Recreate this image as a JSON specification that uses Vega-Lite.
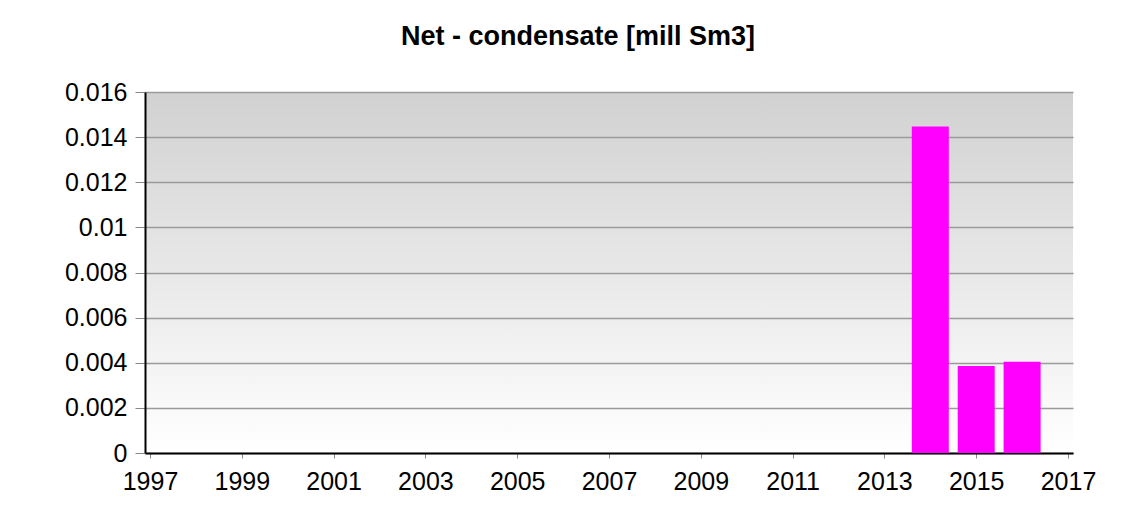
{
  "$schema": "https://vega.github.io/schema/vega-lite/v6.json",
  "autosize": {"type": "none"},
  "width": 928,
  "height": 361,
  "padding": {"left": 145, "top": 92, "right": 73, "bottom": 70},
  "background": "#ffffff",
  "title": {
    "text": "Net - condensate [mill Sm3]",
    "font": "Liberation Sans",
    "fontSize": 27,
    "fontWeight": "bold",
    "color": "#000000",
    "anchor": "middle",
    "dx": -31,
    "offset": 29
  },
  "data": {
    "values": [
      {"year": 2014, "value": 0.01447},
      {"year": 2015, "value": 0.00386},
      {"year": 2016, "value": 0.00404}
    ]
  },
  "view": {
    "stroke": null,
    "fill": {
      "gradient": "linear",
      "x1": 0, "y1": 0, "x2": 0, "y2": 1,
      "stops": [
        {"offset": 0, "color": "#d1d1d1"},
        {"offset": 1, "color": "#ffffff"}
      ]
    }
  },
  "mark": {"type": "bar", "color": "#ff00ff", "size": 37},
  "encoding": {
    "x": {
      "field": "year",
      "type": "quantitative",
      "scale": {"domain": [1997, 2017], "nice": false, "zero": false},
      "axis": {
        "title": null,
        "values": [1997, 1999, 2001, 2003, 2005, 2007, 2009, 2011, 2013, 2015, 2017],
        "format": "d",
        "grid": false,
        "domainColor": "#000000",
        "domainWidth": 2,
        "tickColor": "#888888",
        "tickWidth": 1,
        "tickSize": 5,
        "labelFont": "Liberation Sans",
        "labelFontSize": 25,
        "labelColor": "#000000",
        "labelPadding": 11,
        "labelFlush": false,
        "labelOverlap": false
      }
    },
    "y": {
      "field": "value",
      "type": "quantitative",
      "scale": {"domain": [0, 0.016], "nice": false},
      "axis": {
        "title": null,
        "values": [0, 0.002, 0.004, 0.006, 0.008, 0.01, 0.012, 0.014, 0.016],
        "format": "~g",
        "grid": true,
        "gridColor": "#9a9a9a",
        "gridWidth": 1.5,
        "domainColor": "#000000",
        "domainWidth": 2,
        "tickColor": "#888888",
        "tickWidth": 1,
        "tickSize": 10,
        "labelFont": "Liberation Sans",
        "labelFontSize": 25,
        "labelColor": "#000000",
        "labelPadding": 8,
        "labelFlush": false,
        "labelOverlap": false
      }
    }
  }
}
